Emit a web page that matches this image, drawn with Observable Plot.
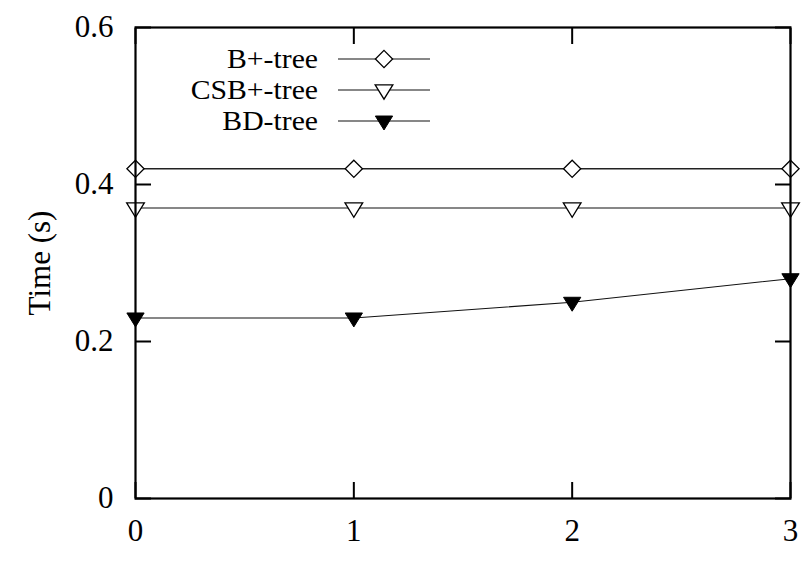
<!DOCTYPE html>
<html>
<head>
<meta charset="utf-8">
<script src="https://cdn.jsdelivr.net/npm/d3@7"></script>
<script src="https://cdn.jsdelivr.net/npm/@observablehq/plot@0.6"></script>
<style>
  html, body { margin: 0; padding: 0; background: #fff; }
  #chart { width: 802px; height: 562px; }
  #chart svg text { fill: #000; }
</style>
</head>
<body>
<div id="chart"></div>
<script>
// ---- data ----
const xValues = [0, 1, 2, 3];
const bplusTree = [0.42, 0.42, 0.42, 0.42];
const csbPlusTree = [0.37, 0.37, 0.37, 0.37];
const bdTree = [0.23, 0.23, 0.25, 0.28];
const seriesNames = ["B+-tree", "CSB+-tree", "BD-tree"];
const yTicks = [0, 0.2, 0.4, 0.6];
const xTicks = [0, 1, 2, 3];
const yLabel = "Time (s)";

// custom symbols
const diamondSym = {
  draw(ctx, size) {
    const r = Math.sqrt(size / Math.PI);
    ctx.moveTo(0, -r); ctx.lineTo(r, 0); ctx.lineTo(0, r); ctx.lineTo(-r, 0); ctx.closePath();
  }
};
const triDownSym = {
  draw(ctx, size) {
    const r = Math.sqrt(size / Math.PI);
    ctx.moveTo(-1.04 * r, -0.6 * r); ctx.lineTo(1.04 * r, -0.6 * r); ctx.lineTo(0, 1.08 * r); ctx.closePath();
  }
};

const toRows = (vals, name) => xValues.map((x, i) => ({x, y: vals[i], series: name}));
const rowsB = toRows(bplusTree, seriesNames[0]);
const rowsC = toRows(csbPlusTree, seriesNames[1]);
const rowsD = toRows(bdTree, seriesNames[2]);

const W = 802, H = 562;
const mL = 135, mR = 12, mT = 27, mB = 64;
const FONT = "'Liberation Serif', 'Times New Roman', serif";

const chart = Plot.plot({
  width: W, height: H,
  marginLeft: mL, marginRight: mR, marginTop: mT, marginBottom: mB,
  style: {fontFamily: FONT, fontSize: "31px", color: "#000", background: "#fff"},
  x: {domain: [0, 3], label: null},
  y: {domain: [0, 0.6], label: null},
  marks: [
    // inward ticks (left/right/bottom/top)
    Plot.axisY({ticks: yTicks, anchor: "left", tickSize: -16, text: null, label: null, strokeWidth: 2}),
    Plot.axisY({ticks: yTicks, anchor: "right", tickSize: -16, text: null, label: null, strokeWidth: 2}),
    Plot.axisX({ticks: xTicks, anchor: "bottom", tickSize: -16, text: null, label: null, strokeWidth: 2}),
    Plot.axisX({ticks: xTicks, anchor: "top", tickSize: -16, text: null, label: null, strokeWidth: 2}),
    // tick labels
    Plot.axisY({ticks: yTicks, anchor: "left", tickSize: 0, tickPadding: 22, tickFormat: d => d === 0 ? "0" : d3.format(".1f")(d),
      label: yLabel, labelAnchor: "center", labelOffset: 108, labelArrow: "none", fill: "#000"}),
    Plot.axisX({ticks: xTicks, anchor: "bottom", tickSize: 0, tickPadding: 20, tickFormat: d => String(d), label: null, fill: "#000"}),
    // series
    Plot.line(rowsB, {x: "x", y: "y", stroke: "#222", strokeWidth: 1.4}),
    Plot.line(rowsC, {x: "x", y: "y", stroke: "#111", strokeWidth: 1.1}),
    Plot.line(rowsD, {x: "x", y: "y", stroke: "#111", strokeWidth: 1.1}),
    Plot.dot(rowsB, {x: "x", y: "y", symbol: diamondSym, r: 8.6, stroke: "#000", fill: "#fff", strokeWidth: 1.3}),
    Plot.dot(rowsC, {x: "x", y: "y", symbol: triDownSym, r: 8.5, stroke: "#000", fill: "#fff", strokeWidth: 1.3}),
    Plot.dot(rowsD, {x: "x", y: "y", symbol: triDownSym, r: 8.3, stroke: "#000", fill: "#000", strokeWidth: 1}),
    Plot.frame({stroke: "#000", strokeWidth: 2.2})
  ]
});
document.getElementById("chart").appendChild(chart);

// legend (inside the frame, top-left)
const svg = d3.select(chart);
const legend = svg.append("g").attr("font-family", FONT).attr("font-size", 27.5);
const legendItems = [
  {name: seriesNames[0], sym: diamondSym, r: 8.6, fill: "#fff", sw: 1.3},
  {name: seriesNames[1], sym: triDownSym, r: 8.5, fill: "#fff", sw: 1.3},
  {name: seriesNames[2], sym: triDownSym, r: 8.3, fill: "#000", sw: 1}
];
legendItems.forEach((it, i) => {
  const cy = 59 + i * 31;
  const g = legend.append("g").attr("transform", `translate(0,${cy})`);
  g.append("text").attr("transform", "translate(318,0) scale(1.08,1)").attr("dy", "0.34em")
    .attr("text-anchor", "end").attr("fill", "#000").text(it.name);
  g.append("line").attr("x1", 338).attr("x2", 430).attr("y1", 0).attr("y2", 0).attr("stroke", "#111").attr("stroke-width", 1.2);
  g.append("path").attr("transform", "translate(384,0)")
    .attr("d", d3.symbol(it.sym, it.r * it.r * Math.PI)())
    .attr("fill", it.fill).attr("stroke", "#000").attr("stroke-width", it.sw);
});
</script>
</body>
</html>
